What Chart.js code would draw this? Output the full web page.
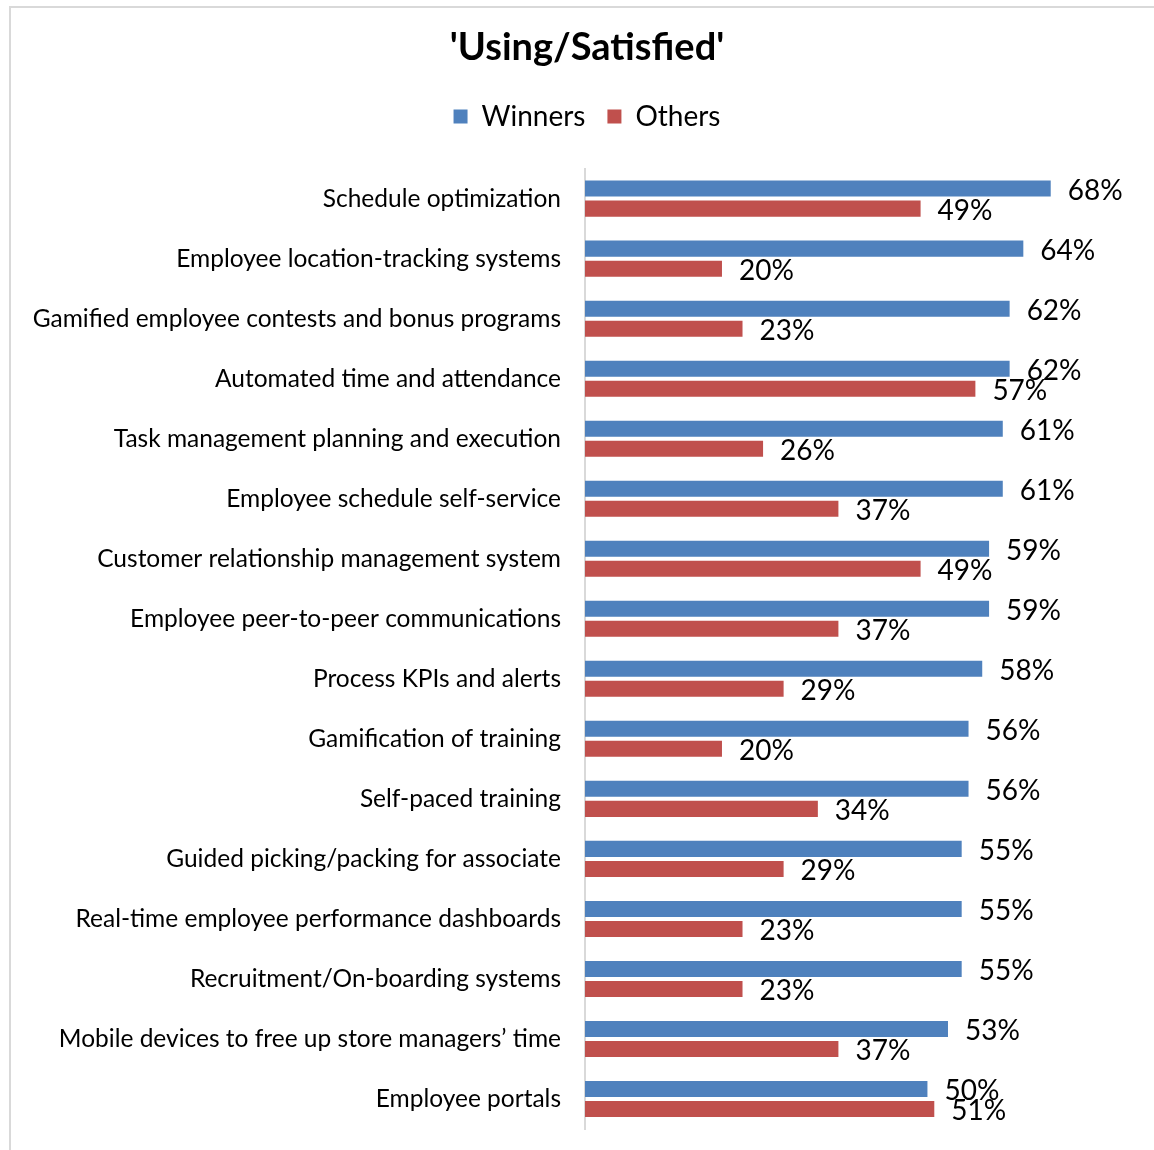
<!DOCTYPE html>
<html>
<head>
<meta charset="utf-8">
<title>Using/Satisfied</title>
<script src="https://cdn.jsdelivr.net/npm/chart.js@4/dist/chart.umd.min.js"></script>
<style>
  html, body { margin: 0; padding: 0; background: #fff; overflow: hidden; }
  #frame {
    position: absolute; left: 9px; top: 6px; width: 1200px; height: 1200px;
    border-left: 2px solid #d9d9d9; border-top: 2px solid #d9d9d9;
  }
  /* the plot runs on past the right edge of the page */
  #wrap { position: absolute; left: 0; top: 0; width: 1174px; height: 1150px; }
</style>
</head>
<body>
<div id="frame"></div>
<div id="wrap"><canvas id="chart"></canvas></div>
<script>
const categories = [
  'Schedule optimization',
  'Employee location-tracking systems',
  'Gamified employee contests and bonus programs',
  'Automated time and attendance',
  'Task management planning and execution',
  'Employee schedule self-service',
  'Customer relationship management system',
  'Employee peer-to-peer communications',
  'Process KPIs and alerts',
  'Gamification of training',
  'Self-paced training',
  'Guided picking/packing for associate',
  'Real-time employee performance dashboards',
  'Recruitment/On-boarding systems',
  'Mobile devices to free up store managers\u2019 time',
  'Employee portals'
];
const winners = [68, 64, 62, 62, 61, 61, 59, 59, 58, 56, 56, 55, 55, 55, 53, 50];
const others  = [49, 20, 23, 57, 26, 37, 49, 37, 29, 20, 34, 29, 23, 23, 37, 51];

const FONT = 'Lato, "Gill Sans", "Open Sans", sans-serif';

// value labels written just past the end of each bar
const valueLabels = {
  id: 'valueLabels',
  afterDatasetsDraw(chart) {
    const ctx = chart.ctx;
    ctx.save();
    ctx.font = '28px ' + FONT;
    ctx.fillStyle = '#000';
    ctx.textAlign = 'left';
    ctx.textBaseline = 'middle';
    chart.data.datasets.forEach((ds, di) => {
      chart.getDatasetMeta(di).data.forEach((bar, i) => {
        ctx.fillText(ds.data[i] + '%', bar.x + 17, bar.y + 2);
      });
    });
    ctx.restore();
  }
};

new Chart(document.getElementById('chart'), {
  type: 'bar',
  data: {
    labels: categories,
    datasets: [
      { label: 'Winners', data: winners, backgroundColor: '#4f81bd' },
      { label: 'Others', data: others, backgroundColor: '#c0504d' }
    ]
  },
  options: {
    indexAxis: 'y',
    responsive: true,
    maintainAspectRatio: false,
    animation: false,
    categoryPercentage: 0.667,
    barPercentage: 0.8,
    layout: { padding: { left: 0, right: 0, top: 0, bottom: 21 } },
    plugins: {
      title: {
        display: true,
        text: "'Using/Satisfied'",
        color: '#000',
        font: { family: FONT, size: 38, weight: 'bold' },
        padding: { top: 25, bottom: 10 }
      },
      legend: {
        position: 'top',
        labels: {
          color: '#000',
          font: { family: FONT, size: 28 },
          boxWidth: 14,
          boxHeight: 14,
          padding: 22
        }
      },
      tooltip: { enabled: false }
    },
    scales: {
      x: {
        position: 'top',
        min: 0,
        max: 86,
        grid: { display: false },
        border: { display: false },
        ticks: { display: false },
        afterFit(scale) { scale.height = 28; }
      },
      y: {
        grid: { display: false, drawTicks: false },
        border: { display: true, color: '#d9d9d9', width: 2 },
        ticks: {
          color: '#000',
          padding: 24,
          font: { family: FONT, size: 24.5 }
        },
        afterFit(scale) {
          scale.width = 585;
          scale.paddingTop = 0;
          scale.paddingBottom = 0;
        }
      }
    }
  },
  plugins: [valueLabels]
});
</script>
</body>
</html>
